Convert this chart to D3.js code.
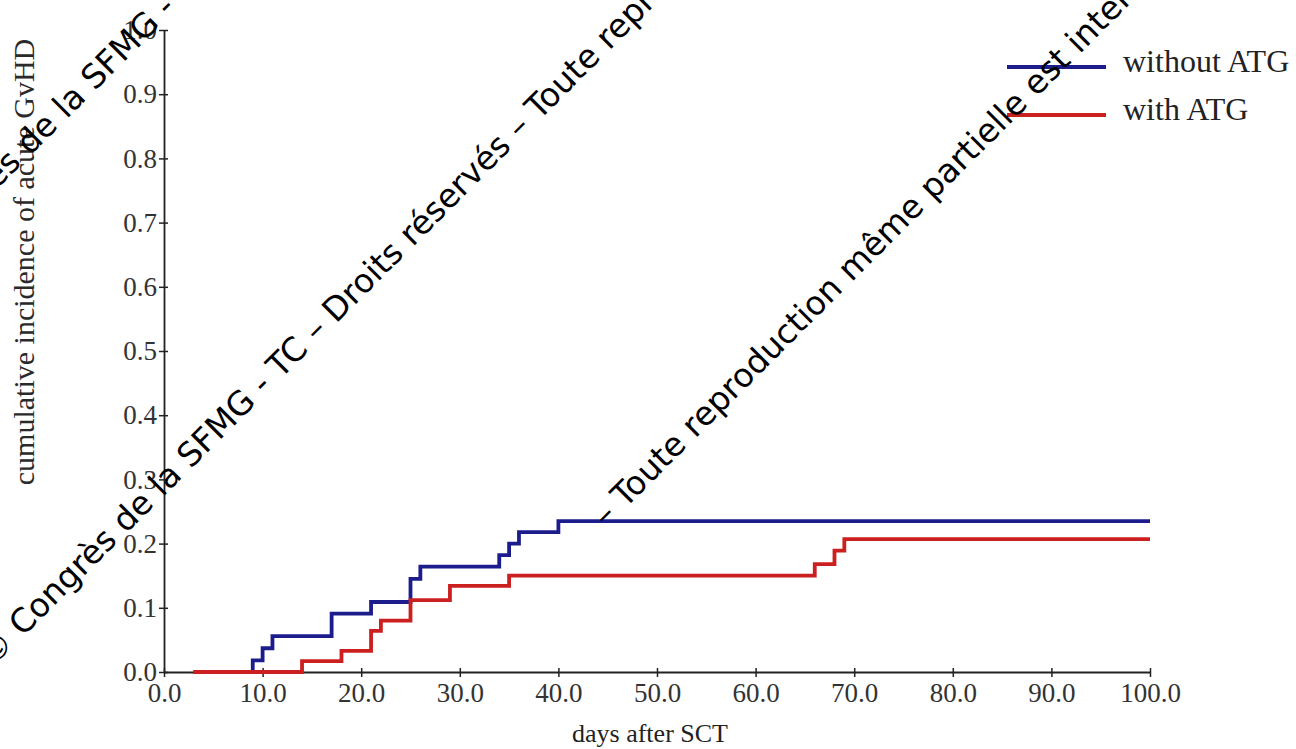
<!DOCTYPE html>
<html>
<head>
<meta charset="utf-8">
<script src="https://cdn.jsdelivr.net/npm/d3@7"></script>
<style>
  html, body { margin: 0; padding: 0; background: #fff; }
  svg { display: block; }
</style>
</head>
<body>
<svg id="chart" width="1296" height="749"></svg>
<script>
// Cumulative incidence of acute GvHD, step functions by group
const seriesNames = ["without ATG", "with ATG"];
const withoutAtgDays   = [3, 9, 10, 11, 17, 21, 25, 26, 34, 35, 36, 40];
const withoutAtgValues = [0, 0.018, 0.037, 0.056, 0.091, 0.109, 0.145, 0.164, 0.182, 0.200, 0.218, 0.235];
const withAtgDays      = [3, 14, 18, 21, 22, 25, 29, 35, 66, 68, 69];
const withAtgValues    = [0, 0.017, 0.033, 0.064, 0.080, 0.112, 0.134, 0.150, 0.168, 0.189, 0.207];
const lastDay = 100;
const xTickValues = [0, 10, 20, 30, 40, 50, 60, 70, 80, 90, 100];
const yTickValues = [0, 0.1, 0.2, 0.3, 0.4, 0.5, 0.6, 0.7, 0.8, 0.9, 1.0];
const xTitle = "days after SCT";
const yTitle = "cumulative incidence of acute GvHD";
const watermarkText = "© Congrès de la SFMG - TC –  Droits réservés – Toute reproduction même partielle est interdite";
const watermarkTail = "– Toute reproduction même partielle est interdite";

const colors = ["#1c1c8c", "#cc1f1f"];
const serif = "'Liberation Serif', 'Times New Roman', serif";

const svg = d3.select("#chart");
const x = d3.scaleLinear().domain([0, 100]).range([164, 1150]);
const y = d3.scaleLinear().domain([0, 1]).range([672, 30]);

// axes
const xAxis = svg.append("g")
  .attr("transform", `translate(0,${y(0)})`)
  .call(d3.axisBottom(x).tickValues(xTickValues).tickFormat(d3.format(".1f")).tickSize(0).tickSizeOuter(0));
xAxis.selectAll(".tick line").attr("y1", -4).attr("y2", 5).attr("stroke", "#222").attr("stroke-width", 1.5);
xAxis.selectAll(".tick text").attr("y", 30).attr("dy", 0)
  .style("font-family", serif).style("font-size", "27px").attr("fill", "#333");
xAxis.select(".domain").attr("stroke", "#222").attr("stroke-width", 1.8);

const yAxis = svg.append("g")
  .attr("transform", `translate(${x(0)},0)`)
  .call(d3.axisLeft(y).tickValues(yTickValues).tickFormat(d3.format(".1f")).tickSize(0).tickSizeOuter(0));
yAxis.selectAll(".tick line").attr("x1", -5).attr("x2", 4).attr("stroke", "#222").attr("stroke-width", 1.5);
yAxis.selectAll(".tick text").attr("x", -7).attr("dy", "0.32em")
  .style("font-family", serif).style("font-size", "27px").attr("fill", "#333");
yAxis.select(".domain").attr("stroke", "#222").attr("stroke-width", 1.8);

// axis titles
svg.append("text")
  .attr("x", 650).attr("y", 742)
  .attr("text-anchor", "middle")
  .style("font-family", serif).style("font-size", "26px").attr("fill", "#222")
  .text(xTitle);
svg.append("text")
  .attr("transform", "translate(34,262) rotate(-90)")
  .attr("text-anchor", "middle")
  .style("font-family", serif).style("font-size", "30px").attr("fill", "#2a2a2a")
  .text(yTitle);

// step curves
const series = [
  { days: withoutAtgDays, values: withoutAtgValues },
  { days: withAtgDays, values: withAtgValues }
];
const line = d3.line().x(d => x(d[0])).y(d => y(d[1])).curve(d3.curveStepAfter);
series.forEach((s, i) => {
  const pts = s.days.map((d, j) => [d, s.values[j]]);
  pts.push([lastDay, s.values[s.values.length - 1]]);
  svg.append("path")
    .datum(pts)
    .attr("d", line)
    .attr("fill", "none")
    .attr("stroke", colors[i])
    .attr("stroke-width", 3.8);
});

// legend
const legend = svg.append("g");
seriesNames.forEach((name, i) => {
  const ly = 67 + i * 48;
  legend.append("line")
    .attr("x1", 1007).attr("x2", 1106).attr("y1", ly).attr("y2", ly)
    .attr("stroke", colors[i]).attr("stroke-width", 4);
  legend.append("text")
    .attr("x", 1123).attr("y", ly + 5)
    .style("font-family", serif).style("font-size", "32px").attr("fill", "#222")
    .text(name);
});

// diagonal copyright watermark
const wm = svg.append("g")
  .style("font-family", "'DejaVu Sans', Verdana, sans-serif")
  .style("font-size", "33px")
  .attr("fill", "#000");
[
  { px: -8, py: 668, text: watermarkText },
  { px: -104, py: 290, text: watermarkText },
  { px: 606, py: 528, text: watermarkTail }
].forEach(w => {
  wm.append("text")
    .attr("transform", `translate(${w.px},${w.py}) rotate(-45)`)
    .text(w.text);
});
</script>
</body>
</html>
